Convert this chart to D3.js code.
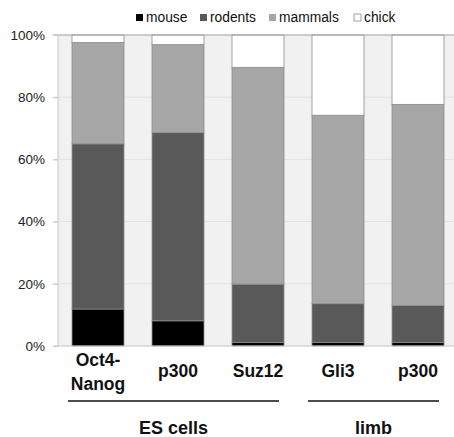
<!DOCTYPE html>
<html><head><meta charset="utf-8">
<script src="https://cdn.jsdelivr.net/npm/d3@7"></script>
<style>body{margin:0;background:#fff;}svg{display:block;font-family:"Liberation Sans",Arial,sans-serif;}</style>
</head><body>
<svg id="c" width="454" height="437"></svg>
<script>
const categories = ["Oct4-Nanog", "p300", "Suz12", "Gli3", "p300 "];
const categoryLines = [["Oct4-", "Nanog"], ["p300"], ["Suz12"], ["Gli3"], ["p300"]];
const seriesNames = ["mouse", "rodents", "mammals", "chick"];
const mouse   = [11.9, 8.1, 1.1, 1.1, 1.1];
const rodents = [53.1, 60.5, 18.8, 12.5, 11.9];
const mammals = [32.6, 28.3, 69.7, 60.6, 64.7];
const chick   = [2.4, 3.1, 10.4, 25.8, 22.3];
const colors  = ["#000000", "#595959", "#a6a6a6", "#ffffff"];
const yTicks  = [0, 20, 40, 60, 80, 100];
const groups  = [{label: "ES cells", from: 0, to: 2}, {label: "limb", from: 3, to: 4}];

const svg = d3.select("#c");
const x = d3.scaleBand().domain(categories).range([58, 458]).paddingInner(0.35).paddingOuter(0.175);
const y = d3.scaleLinear().domain([0, 100]).range([346, 35]);

// plot background
svg.append("rect").attr("x", 58).attr("y", y(100)).attr("width", 400).attr("height", y(0) - y(100)).attr("fill", "#f1f1f1");
// gridlines
svg.append("g").selectAll("line").data(yTicks.filter(d => d > 0 && d < 100)).join("line")
  .attr("x1", 53).attr("x2", 458).attr("y1", d => y(d)).attr("y2", d => y(d))
  .attr("stroke", "#e2e2e2").attr("stroke-width", 1);

// stacked bars
const table = categories.map((c, i) => ({cat: c, mouse: mouse[i], rodents: rodents[i], mammals: mammals[i], chick: chick[i]}));
const stack = d3.stack().keys(seriesNames)(table);
svg.append("g").selectAll("g").data(stack).join("g")
  .attr("fill", (d, i) => colors[i])
  .selectAll("rect").data(d => d).join("rect")
  .attr("x", d => x(d.data.cat)).attr("width", x.bandwidth())
  .attr("y", d => y(d[1])).attr("height", d => y(d[0]) - y(d[1]))
  .attr("stroke", "#8c8c8c").attr("stroke-width", 0.8);

// axes lines
svg.append("line").attr("x1", 53).attr("x2", 458).attr("y1", y(100)).attr("y2", y(100)).attr("stroke", "#a0a0a0").attr("stroke-width", 1.2);
svg.append("line").attr("x1", 53).attr("x2", 458).attr("y1", y(0)).attr("y2", y(0)).attr("stroke", "#c8c8c8").attr("stroke-width", 1.2);
svg.append("line").attr("x1", 58).attr("x2", 58).attr("y1", y(100)).attr("y2", y(0)).attr("stroke", "#c8c8c8").attr("stroke-width", 1);

// y axis
const yAxis = d3.axisLeft(y).tickValues(yTicks).tickFormat(d => d + "%").tickSize(5).tickPadding(8);
const ya = svg.append("g").attr("transform", "translate(58,0)").call(yAxis);
ya.select(".domain").remove();
ya.selectAll(".tick line").attr("stroke", "#c8c8c8");
ya.selectAll(".tick text").attr("font-size", 13.5).attr("fill", "#222").attr("font-family", "'Liberation Sans',Arial,sans-serif");

// category labels
const xl = svg.append("g").selectAll("text").data(categories).join("text")
  .attr("text-anchor", "middle").attr("font-weight", "bold").attr("font-size", 17.5).attr("fill", "#111")
  .attr("x", d => x(d) + x.bandwidth() / 2);
xl.each(function(d, i) {
  const lines = categoryLines[i];
  const t = d3.select(this);
  const startY = lines.length === 2 ? 366 : 377;
  lines.forEach((l, j) => t.append("tspan").attr("x", x(d) + x.bandwidth() / 2).attr("y", startY + j * 24).text(l));
});

// group brackets
groups.forEach(g => {
  const x1 = x(categories[g.from]) - 4, x2 = x(categories[g.to]) + x.bandwidth() - 5;
  svg.append("line").attr("x1", x1).attr("x2", x2).attr("y1", 401).attr("y2", 401).attr("stroke", "#111").attr("stroke-width", 1.5);
  svg.append("text").attr("x", (x1 + x2) / 2).attr("y", 434).attr("text-anchor", "middle")
    .attr("font-weight", "bold").attr("font-size", 18).attr("fill", "#111").text(g.label);
});

// legend
const legX = [136, 200, 269, 354];
const lg = svg.append("g").selectAll("g").data(seriesNames).join("g")
  .attr("transform", (d, i) => `translate(${legX[i]},0)`);
lg.append("rect").attr("x", 0).attr("y", 14).attr("width", 7).attr("height", 7)
  .attr("fill", (d, i) => colors[i]).attr("stroke", (d, i) => i === 3 ? "#888" : "none").attr("stroke-width", 0.8);
lg.append("text").attr("x", 10).attr("y", 22).attr("font-size", 13.8).attr("fill", "#111").text(d => d);
</script>
</body></html>
